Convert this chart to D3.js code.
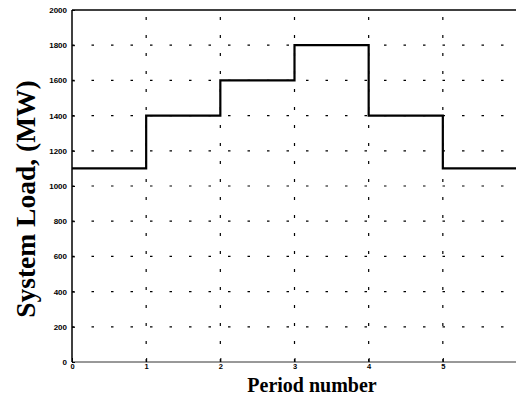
<!DOCTYPE html>
<html>
<head>
<meta charset="utf-8">
<script src="https://cdn.jsdelivr.net/npm/d3@7"></script>
<style>
  body { margin: 0; background: #fff; }
  svg { display: block; }
</style>
</head>
<body>
<svg id="chart"></svg>
<script>
// period boundaries and load held over each period
const periods = [0, 1, 2, 3, 4, 5]
const loads = [1100, 1400, 1600, 1800, 1400, 1100]
const xTicks = [0, 1, 2, 3, 4, 5]
const yTicks = [0, 200, 400, 600, 800, 1000, 1200, 1400, 1600, 1800, 2000]

const width = 516
const height = 396
const margin = { top: 10, right: -1, bottom: 34, left: 72 }

const svg = d3.select('#chart')
  .attr('width', width)
  .attr('height', height)

const x = d3.scaleLinear()
  .domain([0, 6])
  .range([margin.left, width - margin.right])

const y = d3.scaleLinear()
  .domain([0, 2000])
  .range([height - margin.bottom, margin.top])

// dotted grid
const grid = svg.append('g')
grid.selectAll('line.h')
  .data(yTicks.filter(d => d > 0 && d < 2000))
  .join('line')
  .attr('x1', x(0)).attr('x2', x(6))
  .attr('y1', d => y(d)).attr('y2', d => y(d))
  .attr('stroke', '#000')
  .attr('stroke-width', 1.2)
  .attr('stroke-dasharray', '2.5,17')
grid.selectAll('line.v')
  .data(xTicks.filter(d => d > 0))
  .join('line')
  .attr('x1', d => x(d)).attr('x2', d => x(d))
  .attr('y1', y(0)).attr('y2', y(2000))
  .attr('stroke', '#000')
  .attr('stroke-width', 1.2)
  .attr('stroke-dasharray', '3,15')

// frame
svg.append('line')
  .attr('x1', x(0)).attr('x2', x(6))
  .attr('y1', y(2000)).attr('y2', y(2000))
  .attr('stroke', '#000').attr('stroke-width', 1.3)
svg.append('line')
  .attr('x1', x(0)).attr('x2', x(6))
  .attr('y1', y(0)).attr('y2', y(0))
  .attr('stroke', '#333').attr('stroke-width', 1)
svg.append('line')
  .attr('x1', x(0)).attr('x2', x(0))
  .attr('y1', y(0)).attr('y2', y(2000))
  .attr('stroke', '#000').attr('stroke-width', 1.5)

// axes
const yAxis = d3.axisLeft(y)
  .tickValues(yTicks)
  .tickSize(-3)
  .tickPadding(5)
  .tickFormat(d3.format('d'))
svg.append('g')
  .attr('transform', `translate(${x(0)},0)`)
  .call(yAxis)
  .call(g => g.select('.domain').remove())
  .call(g => g.selectAll('text')
    .attr('font-family', 'Liberation Sans, Arial, sans-serif')
    .attr('font-weight', 'bold')
    .attr('font-size', 8))

const xAxis = d3.axisBottom(x)
  .tickValues(xTicks)
  .tickSize(-4)
  .tickPadding(2)
  .tickFormat(d3.format('d'))
svg.append('g')
  .attr('transform', `translate(0,${y(0)})`)
  .call(xAxis)
  .call(g => g.select('.domain').remove())
  .call(g => g.selectAll('text')
    .attr('font-family', 'Liberation Sans, Arial, sans-serif')
    .attr('font-weight', 'bold')
    .attr('font-size', 7.5))

// step line
const stepData = periods.map((p, i) => ({ p, v: loads[i] }))
stepData.push({ p: 6, v: loads[loads.length - 1] })

const line = d3.line()
  .x(d => x(d.p))
  .y(d => y(d.v))
  .curve(d3.curveStepAfter)

svg.append('path')
  .datum(stepData)
  .attr('fill', 'none')
  .attr('stroke', '#000')
  .attr('stroke-width', 2.2)
  .attr('d', line)

// titles
svg.append('text')
  .attr('x', 312)
  .attr('y', 392)
  .attr('text-anchor', 'middle')
  .attr('font-family', 'Liberation Serif, Times New Roman, serif')
  .attr('font-weight', 'bold')
  .attr('font-size', 20)
  .text('Period number')

svg.append('text')
  .attr('transform', 'translate(35,199) rotate(-90)')
  .attr('text-anchor', 'middle')
  .attr('font-family', 'Liberation Serif, Times New Roman, serif')
  .attr('font-weight', 'bold')
  .attr('font-size', 27.5)
  .text('System Load, (MW)')
</script>
</body>
</html>
